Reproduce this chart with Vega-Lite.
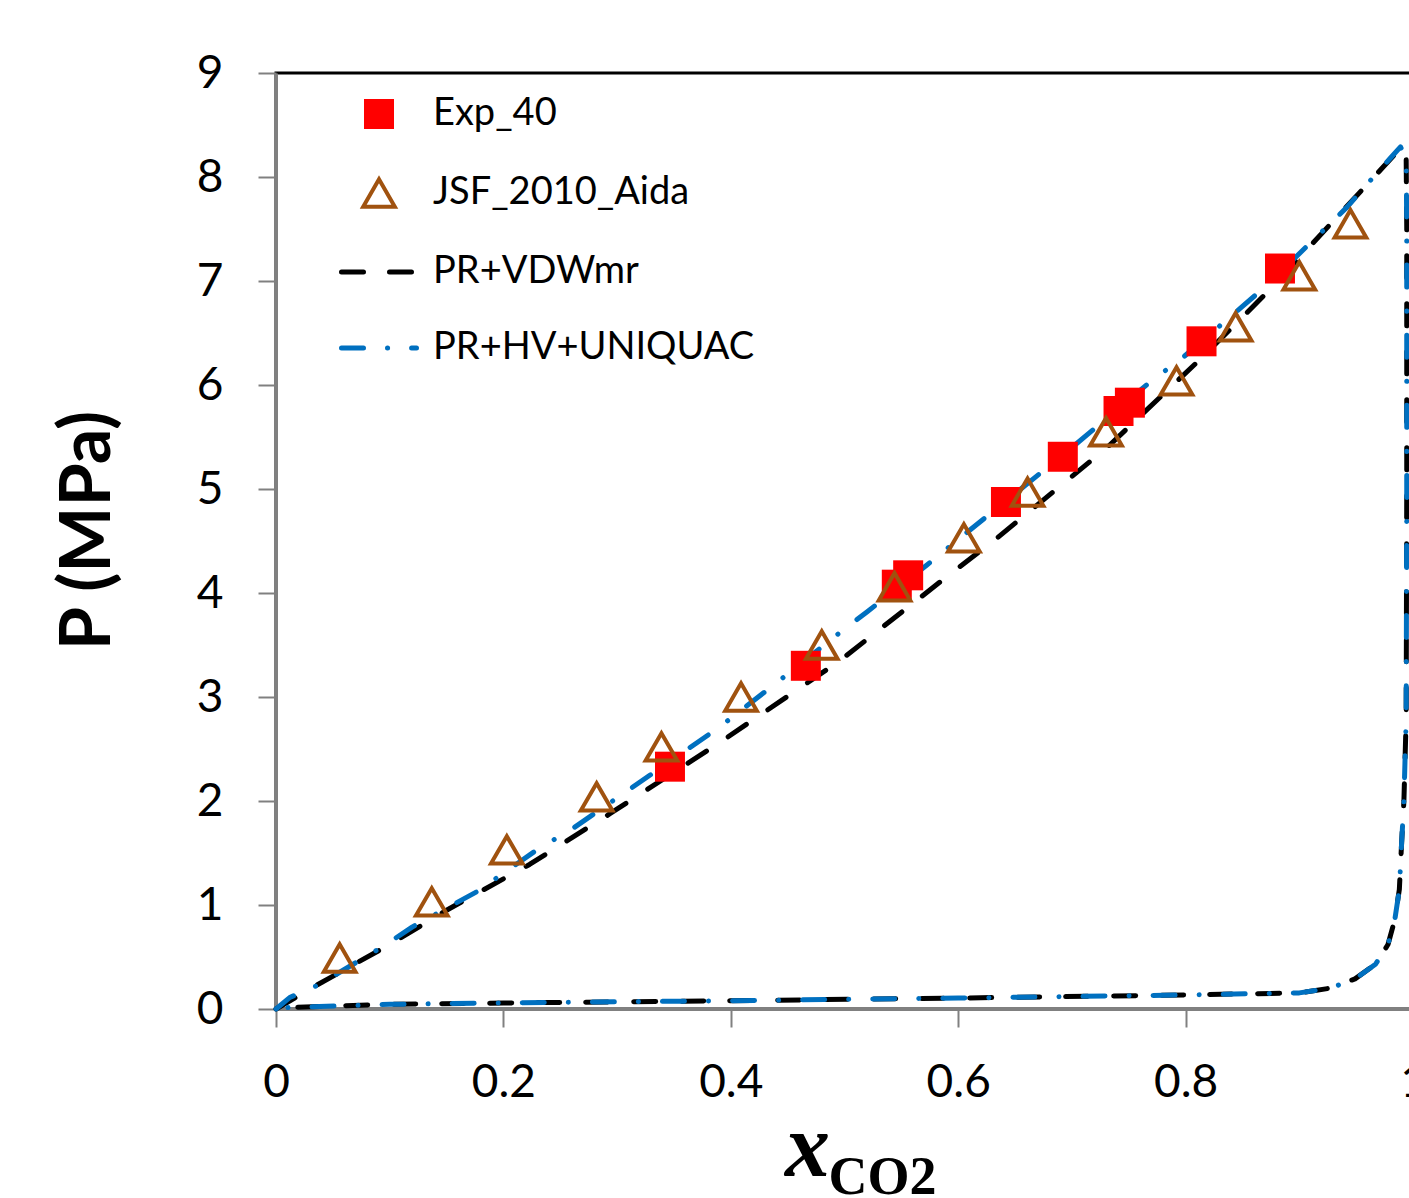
{
  "$schema": "https://vega.github.io/schema/vega-lite/v6.json",
  "width": 1137,
  "height": 936,
  "autosize": {"type": "none"},
  "padding": {"left": 276, "top": 73, "right": -4, "bottom": 189},
  "background": "white",
  "title": {
    "text": "2",
    "font": "Lato",
    "fontSize": 50,
    "fontWeight": "bold",
    "color": "#007A3D",
    "anchor": "start",
    "frame": "group",
    "dx": 815,
    "offset": 63,
    "baseline": "alphabetic"
  },
  "datasets": {
    "lines": [
      {"series": "PR+VDWmr", "seq": 1, "x": 0, "p": 0},
      {"series": "PR+VDWmr", "seq": 2, "x": 0.036, "p": 0.23},
      {"series": "PR+VDWmr", "seq": 3, "x": 0.1, "p": 0.62},
      {"series": "PR+VDWmr", "seq": 4, "x": 0.15, "p": 0.95},
      {"series": "PR+VDWmr", "seq": 5, "x": 0.223, "p": 1.39},
      {"series": "PR+VDWmr", "seq": 6, "x": 0.294, "p": 1.88},
      {"series": "PR+VDWmr", "seq": 7, "x": 0.39, "p": 2.56},
      {"series": "PR+VDWmr", "seq": 8, "x": 0.496, "p": 3.35},
      {"series": "PR+VDWmr", "seq": 9, "x": 0.595, "p": 4.2},
      {"series": "PR+VDWmr", "seq": 10, "x": 0.631, "p": 4.5},
      {"series": "PR+VDWmr", "seq": 11, "x": 0.731, "p": 5.4},
      {"series": "PR+VDWmr", "seq": 12, "x": 0.815, "p": 6.27},
      {"series": "PR+VDWmr", "seq": 13, "x": 0.868, "p": 6.85},
      {"series": "PR+VDWmr", "seq": 14, "x": 0.909, "p": 7.33},
      {"series": "PR+VDWmr", "seq": 15, "x": 0.953, "p": 7.85},
      {"series": "PR+VDWmr", "seq": 16, "x": 0.98, "p": 8.17},
      {"series": "PR+VDWmr", "seq": 17, "x": 0.99, "p": 8.29},
      {"series": "PR+VDWmr", "seq": 18, "x": 0.994, "p": 8.18},
      {"series": "PR+VDWmr", "seq": 19, "x": 0.9945, "p": 7.5},
      {"series": "PR+VDWmr", "seq": 20, "x": 0.9945, "p": 5.0},
      {"series": "PR+VDWmr", "seq": 21, "x": 0.994, "p": 2.8},
      {"series": "PR+VDWmr", "seq": 22, "x": 0.992, "p": 2.0},
      {"series": "PR+VDWmr", "seq": 23, "x": 0.99, "p": 1.6},
      {"series": "PR+VDWmr", "seq": 24, "x": 0.988, "p": 1.15},
      {"series": "PR+VDWmr", "seq": 25, "x": 0.984, "p": 0.86},
      {"series": "PR+VDWmr", "seq": 26, "x": 0.978, "p": 0.62},
      {"series": "PR+VDWmr", "seq": 27, "x": 0.967, "p": 0.43},
      {"series": "PR+VDWmr", "seq": 28, "x": 0.949, "p": 0.29},
      {"series": "PR+VDWmr", "seq": 29, "x": 0.927, "p": 0.2},
      {"series": "PR+VDWmr", "seq": 30, "x": 0.9, "p": 0.155},
      {"series": "PR+VDWmr", "seq": 31, "x": 0.8, "p": 0.135},
      {"series": "PR+VDWmr", "seq": 32, "x": 0.6, "p": 0.105},
      {"series": "PR+VDWmr", "seq": 33, "x": 0.4, "p": 0.08},
      {"series": "PR+VDWmr", "seq": 34, "x": 0.2, "p": 0.058},
      {"series": "PR+VDWmr", "seq": 35, "x": 0.1, "p": 0.045},
      {"series": "PR+VDWmr", "seq": 36, "x": 0, "p": 0.01},
      {"series": "PR+HV+UNIQUAC", "seq": 1, "x": 0, "p": 0},
      {"series": "PR+HV+UNIQUAC", "seq": 2, "x": 0.012, "p": 0.11},
      {"series": "PR+HV+UNIQUAC", "seq": 3, "x": 0.037, "p": 0.23},
      {"series": "PR+HV+UNIQUAC", "seq": 4, "x": 0.094, "p": 0.6},
      {"series": "PR+HV+UNIQUAC", "seq": 5, "x": 0.12, "p": 0.79},
      {"series": "PR+HV+UNIQUAC", "seq": 6, "x": 0.177, "p": 1.13},
      {"series": "PR+HV+UNIQUAC", "seq": 7, "x": 0.232, "p": 1.55},
      {"series": "PR+HV+UNIQUAC", "seq": 8, "x": 0.259, "p": 1.72},
      {"series": "PR+HV+UNIQUAC", "seq": 9, "x": 0.39, "p": 2.71},
      {"series": "PR+HV+UNIQUAC", "seq": 10, "x": 0.443, "p": 3.16},
      {"series": "PR+HV+UNIQUAC", "seq": 11, "x": 0.496, "p": 3.62},
      {"series": "PR+HV+UNIQUAC", "seq": 12, "x": 0.52, "p": 3.82},
      {"series": "PR+HV+UNIQUAC", "seq": 13, "x": 0.5725, "p": 4.27},
      {"series": "PR+HV+UNIQUAC", "seq": 14, "x": 0.621, "p": 4.7},
      {"series": "PR+HV+UNIQUAC", "seq": 15, "x": 0.672, "p": 5.15},
      {"series": "PR+HV+UNIQUAC", "seq": 16, "x": 0.7045, "p": 5.44},
      {"series": "PR+HV+UNIQUAC", "seq": 17, "x": 0.771, "p": 6.05},
      {"series": "PR+HV+UNIQUAC", "seq": 18, "x": 0.795, "p": 6.24},
      {"series": "PR+HV+UNIQUAC", "seq": 19, "x": 0.8505, "p": 6.76},
      {"series": "PR+HV+UNIQUAC", "seq": 20, "x": 0.8716, "p": 6.96},
      {"series": "PR+HV+UNIQUAC", "seq": 21, "x": 0.9006, "p": 7.27},
      {"series": "PR+HV+UNIQUAC", "seq": 22, "x": 0.942, "p": 7.71},
      {"series": "PR+HV+UNIQUAC", "seq": 23, "x": 0.962, "p": 7.96},
      {"series": "PR+HV+UNIQUAC", "seq": 24, "x": 0.98, "p": 8.18},
      {"series": "PR+HV+UNIQUAC", "seq": 25, "x": 0.989, "p": 8.29},
      {"series": "PR+HV+UNIQUAC", "seq": 26, "x": 0.994, "p": 8.18},
      {"series": "PR+HV+UNIQUAC", "seq": 27, "x": 0.9945, "p": 7.5},
      {"series": "PR+HV+UNIQUAC", "seq": 28, "x": 0.9945, "p": 5.0},
      {"series": "PR+HV+UNIQUAC", "seq": 29, "x": 0.994, "p": 2.8},
      {"series": "PR+HV+UNIQUAC", "seq": 30, "x": 0.992, "p": 2.0},
      {"series": "PR+HV+UNIQUAC", "seq": 31, "x": 0.99, "p": 1.6},
      {"series": "PR+HV+UNIQUAC", "seq": 32, "x": 0.988, "p": 1.15},
      {"series": "PR+HV+UNIQUAC", "seq": 33, "x": 0.984, "p": 0.86},
      {"series": "PR+HV+UNIQUAC", "seq": 34, "x": 0.978, "p": 0.62},
      {"series": "PR+HV+UNIQUAC", "seq": 35, "x": 0.967, "p": 0.43},
      {"series": "PR+HV+UNIQUAC", "seq": 36, "x": 0.949, "p": 0.29},
      {"series": "PR+HV+UNIQUAC", "seq": 37, "x": 0.927, "p": 0.2},
      {"series": "PR+HV+UNIQUAC", "seq": 38, "x": 0.9, "p": 0.155},
      {"series": "PR+HV+UNIQUAC", "seq": 39, "x": 0.8, "p": 0.135},
      {"series": "PR+HV+UNIQUAC", "seq": 40, "x": 0.6, "p": 0.105},
      {"series": "PR+HV+UNIQUAC", "seq": 41, "x": 0.4, "p": 0.08},
      {"series": "PR+HV+UNIQUAC", "seq": 42, "x": 0.2, "p": 0.058},
      {"series": "PR+HV+UNIQUAC", "seq": 43, "x": 0.1, "p": 0.045},
      {"series": "PR+HV+UNIQUAC", "seq": 44, "x": 0, "p": 0.01}
    ],
    "exp": [
      {"series": "Exp_40", "x": 0.3465, "p": 2.33},
      {"series": "Exp_40", "x": 0.466, "p": 3.3},
      {"series": "Exp_40", "x": 0.546, "p": 4.08},
      {"series": "Exp_40", "x": 0.556, "p": 4.17},
      {"series": "Exp_40", "x": 0.642, "p": 4.875},
      {"series": "Exp_40", "x": 0.692, "p": 5.31},
      {"series": "Exp_40", "x": 0.741, "p": 5.75},
      {"series": "Exp_40", "x": 0.751, "p": 5.83},
      {"series": "Exp_40", "x": 0.814, "p": 6.42},
      {"series": "Exp_40", "x": 0.883, "p": 7.12}
    ],
    "jsf": [
      {"series": "JSF_2010_Aida", "x": 0.056, "p": 0.49},
      {"series": "JSF_2010_Aida", "x": 0.137, "p": 1.03},
      {"series": "JSF_2010_Aida", "x": 0.203, "p": 1.53},
      {"series": "JSF_2010_Aida", "x": 0.282, "p": 2.04},
      {"series": "JSF_2010_Aida", "x": 0.339, "p": 2.52},
      {"series": "JSF_2010_Aida", "x": 0.409, "p": 3.0},
      {"series": "JSF_2010_Aida", "x": 0.48, "p": 3.5},
      {"series": "JSF_2010_Aida", "x": 0.544, "p": 4.06},
      {"series": "JSF_2010_Aida", "x": 0.605, "p": 4.53},
      {"series": "JSF_2010_Aida", "x": 0.661, "p": 4.97},
      {"series": "JSF_2010_Aida", "x": 0.73, "p": 5.55},
      {"series": "JSF_2010_Aida", "x": 0.792, "p": 6.04},
      {"series": "JSF_2010_Aida", "x": 0.844, "p": 6.56},
      {"series": "JSF_2010_Aida", "x": 0.9, "p": 7.05},
      {"series": "JSF_2010_Aida", "x": 0.945, "p": 7.55}
    ]
  },
  "config": {
    "view": {"stroke": "#000000", "strokeWidth": 3},
    "axis": {
      "grid": false,
      "domainColor": "#808080",
      "domainWidth": 3,
      "tickColor": "#808080",
      "tickWidth": 2,
      "tickSize": 18,
      "labelFont": "Lato",
      "labelFontSize": 46,
      "labelColor": "#000000",
      "labelPadding": 35,
      "labelFlush": false,
      "labelOverlap": false,
      "titleColor": "#000000"
    }
  },
  "resolve": {"axis": {"x": "independent"}},
  "layer": [
    {
      "data": {"name": "lines"},
      "mark": {"type": "line", "strokeWidth": 5, "strokeCap": "round", "strokeJoin": "round"},
      "encoding": {
        "x": {
          "field": "x", "type": "quantitative",
          "scale": {"domain": [0, 1], "nice": false, "zero": false},
          "axis": {
            "orient": "bottom",
            "values": [0, 0.2, 0.4, 0.6, 0.8, 1],
            "format": "~g",
            "labelPadding": 33,
            "title": "x",
            "titleFont": "Liberation Serif",
            "titleFontStyle": "italic",
            "titleFontWeight": "bold",
            "titleFontSize": 90,
            "titleX": 531,
            "titleY": 166,
            "titleBaseline": "alphabetic",
            "titleAlign": "center"
          }
        },
        "y": {
          "field": "p", "type": "quantitative",
          "scale": {"domain": [0, 9], "nice": false, "zero": false},
          "axis": {
            "values": [0, 1, 2, 3, 4, 5, 6, 7, 8, 9],
            "format": "~g",
            "title": "P (MPa)",
            "titleFont": "Lato",
            "titleFontSize": 70,
            "titleFontWeight": "bold",
            "titleAngle": -90,
            "titleX": -188,
            "titleY": 457,
            "titleBaseline": "middle",
            "titleAlign": "center"
          }
        },
        "order": {"field": "seq", "type": "quantitative"},
        "color": {
          "field": "series", "type": "nominal",
          "scale": {
            "domain": ["Exp_40", "JSF_2010_Aida", "PR+VDWmr", "PR+HV+UNIQUAC"],
            "range": ["#FF0000", "#A0520F", "#000000", "#0070C0"]
          },
          "legend": {
            "orient": "none",
            "legendX": 84,
            "legendY": 22,
            "title": null,
            "padding": 0,
            "symbolSize": 1000,
            "symbolStrokeWidth": 5,
            "symbolType": "stroke",
            "labelFont": "Lato",
            "labelFontSize": 38,
            "labelColor": "#000000",
            "labelLimit": 500,
            "labelOffset": 35,
            "rowPadding": 38,
            "encode": {
              "symbols": {
                "update": {
                  "shape": {"signal": "datum.value === 'Exp_40' ? 'square' : datum.value === 'JSF_2010_Aida' ? 'triangle-up' : 'stroke'"},
                  "size": {"signal": "datum.value === 'Exp_40' ? 900 : datum.value === 'JSF_2010_Aida' ? 1000 : 5625"},
                  "fillOpacity": {"signal": "datum.value === 'Exp_40' ? 1 : 0"},
                  "strokeOpacity": {"signal": "datum.value === 'Exp_40' ? 0 : 1"},
                  "strokeWidth": {"signal": "datum.value === 'JSF_2010_Aida' ? 4 : 5"},
                  "strokeDash": {"signal": "datum.value === 'PR+VDWmr' ? [22, 26] : datum.value === 'PR+HV+UNIQUAC' ? [22, 24, 0.1, 24] : []"},
                  "strokeCap": {"value": "round"},
                  "opacity": {"value": 1}
                }
              }
            }
          }
        },
        "strokeDash": {
          "field": "series", "type": "nominal",
          "scale": {
            "domain": ["PR+VDWmr", "PR+HV+UNIQUAC"],
            "range": [[22, 26], [22, 24, 0.1, 24]]
          },
          "legend": null
        }
      }
    },
    {
      "data": {"name": "exp"},
      "mark": {"type": "point", "shape": "square", "filled": true, "size": 900, "opacity": 1},
      "encoding": {
        "x": {
          "field": "x", "type": "quantitative",
          "axis": {
            "orient": "bottom",
            "title": "CO2",
            "labels": false,
            "ticks": false,
            "domain": false,
            "titleFont": "Liberation Serif",
            "titleFontWeight": "bold",
            "titleFontSize": 54,
            "titleX": 606,
            "titleY": 184,
            "titleBaseline": "alphabetic",
            "titleAlign": "center"
          }
        },
        "y": {"field": "p", "type": "quantitative"},
        "color": {"field": "series", "type": "nominal"}
      }
    },
    {
      "data": {"name": "jsf"},
      "mark": {"type": "point", "shape": "triangle-up", "filled": false, "size": 1000, "strokeWidth": 4, "opacity": 1},
      "encoding": {
        "x": {"field": "x", "type": "quantitative", "axis": null},
        "y": {"field": "p", "type": "quantitative"},
        "color": {"field": "series", "type": "nominal"}
      }
    }
  ]
}
